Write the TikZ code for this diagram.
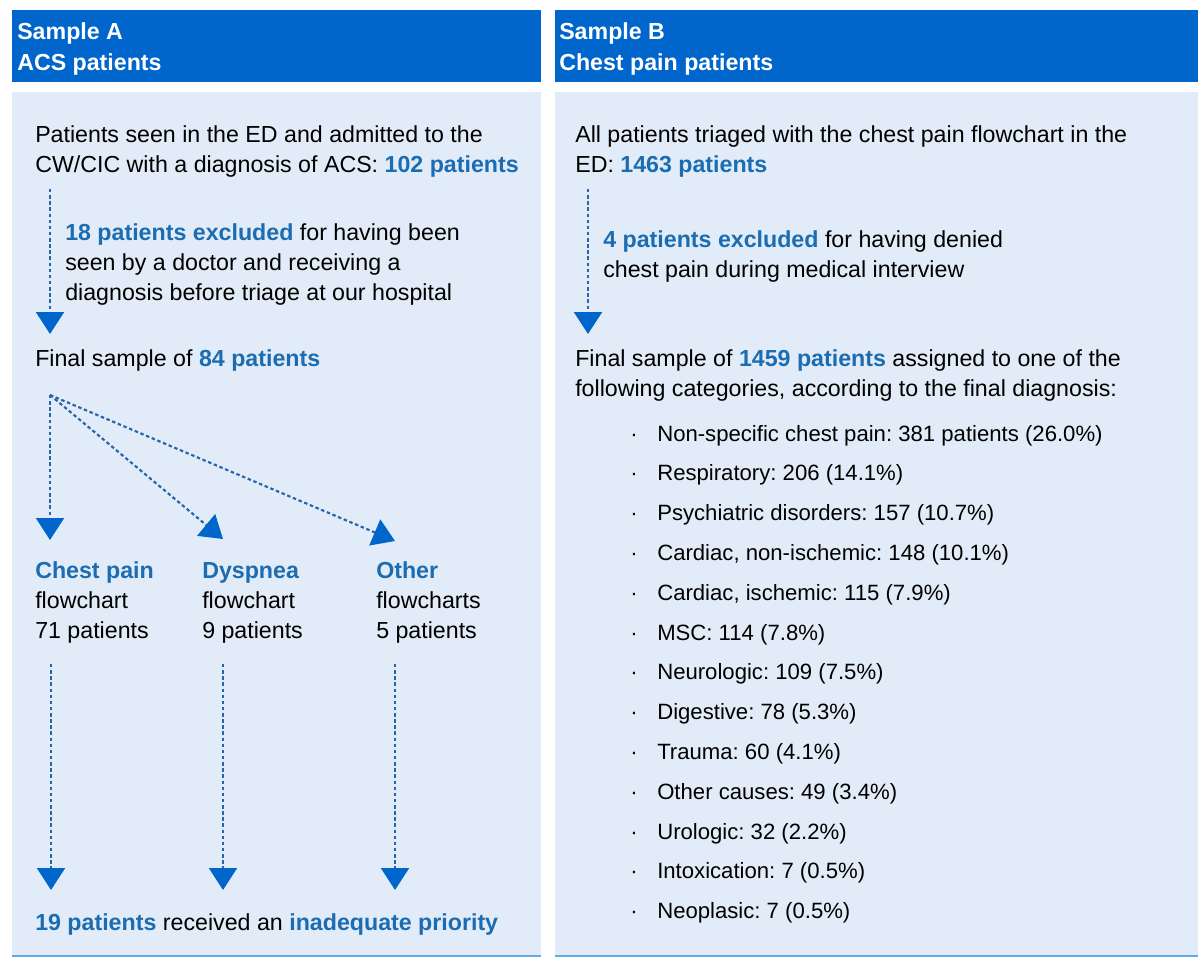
\documentclass[tikz,border=0pt]{standalone}
\usepackage{fontspec}
\setmainfont{Liberation Sans}
\usetikzlibrary{arrows.meta}
\definecolor{hdr}{RGB}{0,102,204}
\definecolor{panel}{RGB}{225,236,248}
\definecolor{btxt}{RGB}{28,108,178}
\definecolor{dotc}{RGB}{40,100,170}
\definecolor{tri}{RGB}{0,102,204}
\definecolor{edgeln}{RGB}{95,170,235}
\newcommand{\B}[1]{\textcolor{btxt}{\bfseries #1}}
\frenchspacing
\begin{document}
\begin{tikzpicture}[x=0.75pt,y=-0.75pt,
  txt/.style={anchor=base west, inner sep=0pt, font=\fontsize{17.4}{22}\selectfont\frenchspacing, text=black},
  lst/.style={anchor=base west, inner sep=0pt, font=\fontsize{16.6}{22}\selectfont\frenchspacing, text=black},
  hd/.style={anchor=base west, inner sep=0pt, font=\fontsize{17.4}{22}\selectfont\bfseries, text=white},
  flow/.style={draw=dotc, line width=1.6pt, dash pattern=on 2.6pt off 2pt,
    -{Triangle[length=16.5pt,width=21pt,color=tri]}},
  bar/.style={fill=hdr},
  pane/.style={fill=panel}]
\useasboundingbox (0,0) rectangle (1198,957);
\fill[white] (0,0) rectangle (1198,957);
% panels
\fill[bar] (12,10) rectangle (541,82);
\fill[pane] (12,92) rectangle (541,955);
\fill[edgeln] (12,955) rectangle (541,957);
\fill[bar] (555,10) rectangle (1198,82);
\fill[pane] (555,92) rectangle (1198,955);
\fill[edgeln] (555,955) rectangle (1198,957);
% headers
\node[hd] (hA1) at (17,39) {Sample A};
\node[hd] (hA2) at (17,70) {ACS patients};
\node[hd] (hB1) at (559,39) {Sample B};
\node[hd] (hB2) at (559,70) {Chest pain patients};
% left panel
\node[txt] (a1) at (35,142) {Patients seen in the ED and admitted to the};
\node[txt] (a2) at (35,172) {CW/CIC with a diagnosis of ACS: \B{102 patients}};
\node[txt] (a3) at (65,240) {\B{18 patients excluded} for having been};
\node[txt] (a4) at (65,270) {seen by a doctor and receiving a};
\node[txt] (a5) at (65,300) {diagnosis before triage at our hospital};
\node[txt] (a6) at (35,366) {Final sample of \B{84 patients}};
\coordinate (e1s) at (50,189);
\coordinate (e1t) at (50,334);
\draw[flow] (e1s) -- (e1t);
\coordinate (br) at (50,395);
\coordinate (t1) at (50,540);
\coordinate (t2) at (223,539);
\coordinate (t3) at (395,541);
\draw[flow] (br) -- (t1);
\draw[flow] (br) -- (t2);
\draw[flow] (br) -- (t3);
\node[txt] (c1) at (35,578) {\B{Chest pain}};
\node[txt] (c2) at (35,608) {flowchart};
\node[txt] (c3) at (35,638) {71 patients};
\node[txt] (d1) at (202,578) {\B{Dyspnea}};
\node[txt] (d2) at (202,608) {flowchart};
\node[txt] (d3) at (202,638) {9 patients};
\node[txt] (o1) at (376,578) {\B{Other}};
\node[txt] (o2) at (376,608) {flowcharts};
\node[txt] (o3) at (376,638) {5 patients};
\coordinate (u1) at (51,664);
\coordinate (u2) at (223,664);
\coordinate (u3) at (395,664);
\coordinate (v1) at (51,890);
\coordinate (v2) at (223,890);
\coordinate (v3) at (395,890);
\draw[flow] (u1) -- (v1);
\draw[flow] (u2) -- (v2);
\draw[flow] (u3) -- (v3);
\node[txt] (fin) at (35,930) {\B{19 patients} received an \B{inadequate priority}};
% right panel
\node[txt] (b1) at (575,142) {All patients triaged with the chest pain flowchart in the};
\node[txt] (b2) at (575,172) {ED: \B{1463 patients}};
\coordinate (e2s) at (588,189);
\coordinate (e2t) at (588,334);
\draw[flow] (e2s) -- (e2t);
\node[txt] (b3) at (603,247) {\B{4 patients excluded} for having denied};
\node[txt] (b4) at (603,277) {chest pain during medical interview};
\node[txt] (b5) at (575,366) {Final sample of \B{1459 patients} assigned to one of the};
\node[txt] (b6) at (575,396) {following categories, according to the final diagnosis:};
\foreach \t [count=\i from 0] in {
  {Non-specific chest pain: 381 patients (26.0\%)},
  {Respiratory: 206 (14.1\%)},
  {Psychiatric disorders: 157 (10.7\%)},
  {Cardiac, non-ischemic: 148 (10.1\%)},
  {Cardiac, ischemic: 115 (7.9\%)},
  {MSC: 114 (7.8\%)},
  {Neurologic: 109 (7.5\%)},
  {Digestive: 78 (5.3\%)},
  {Trauma: 60 (4.1\%)},
  {Other causes: 49 (3.4\%)},
  {Urologic: 32 (2.2\%)},
  {Intoxication: 7 (0.5\%)},
  {Neoplasic: 7 (0.5\%)}} {
  \node[lst] (bu\i) at (630,441+39.8*\i) {·};
  \node[lst] (li\i) at (657,441+39.8*\i) {\t};
}
\end{tikzpicture}
\end{document}
